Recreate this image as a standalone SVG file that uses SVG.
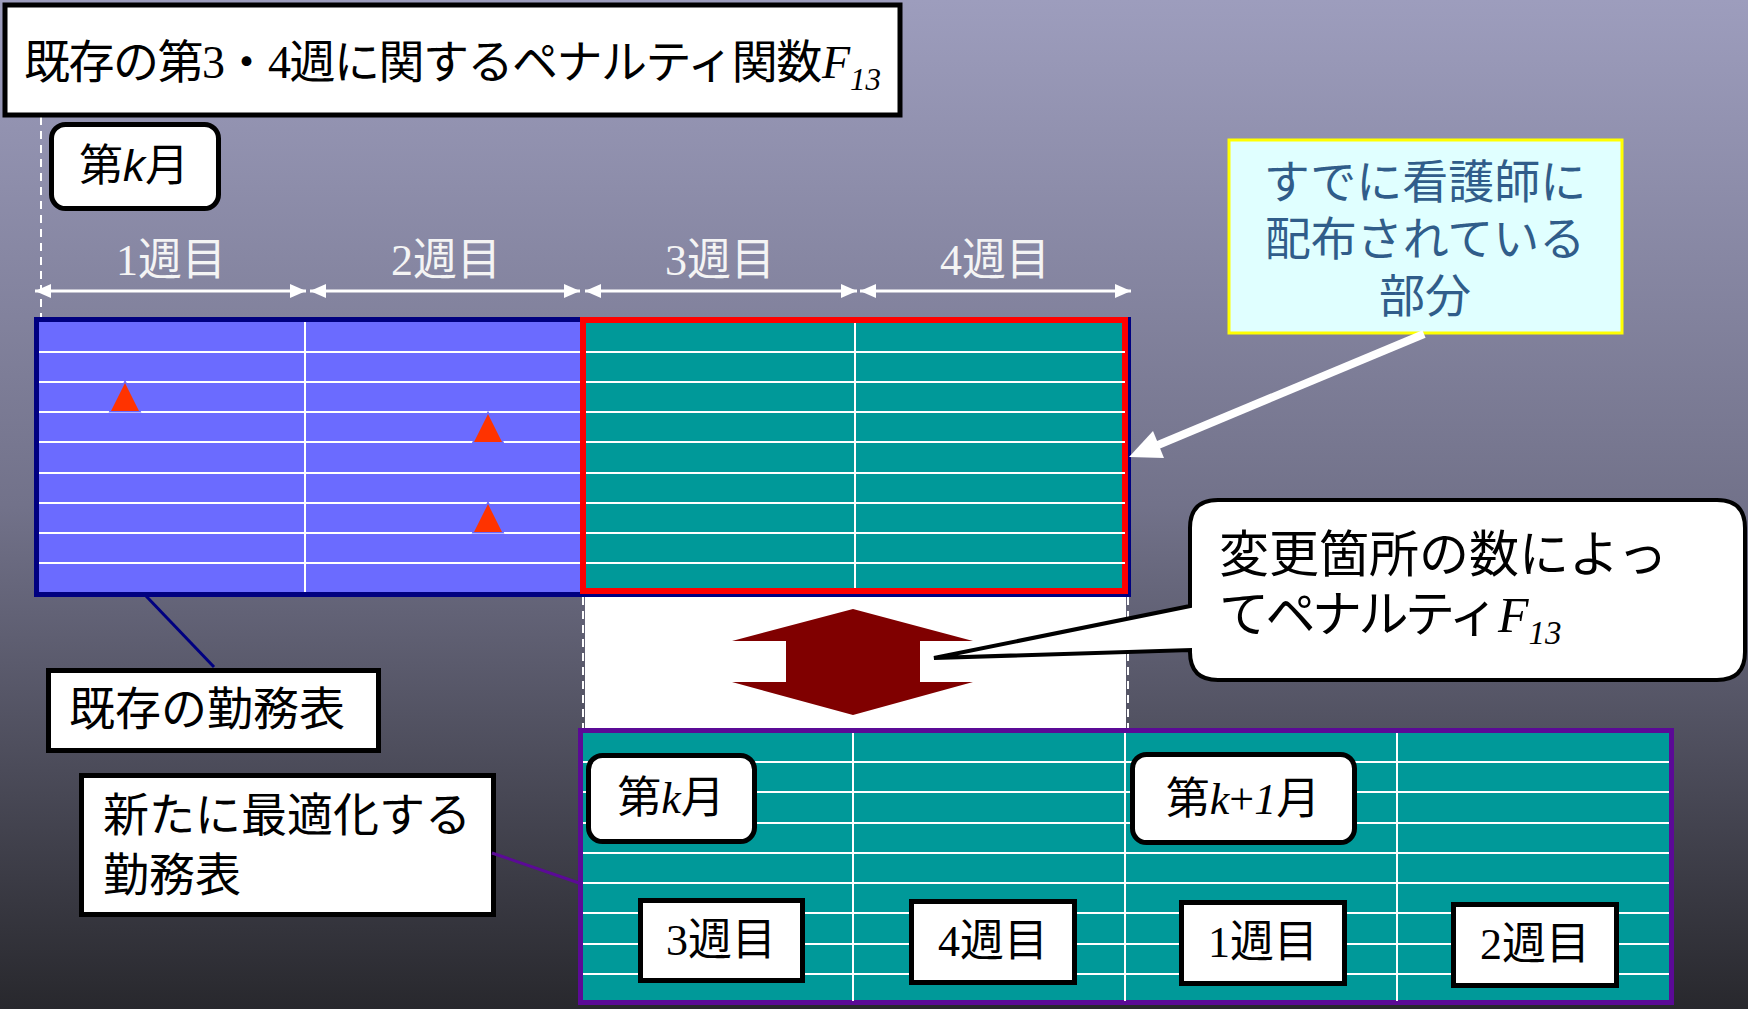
<svg xmlns="http://www.w3.org/2000/svg" width="1748" height="1009" viewBox="0 0 1748 1009">
<defs>
<linearGradient id="bg" x1="0" y1="0" x2="0" y2="1">
<stop offset="0" stop-color="#9d9dbd"/>
<stop offset="0.5" stop-color="#72728a"/>
<stop offset="1" stop-color="#28282d"/>
</linearGradient>
<marker id="ah" markerWidth="16" markerHeight="16" refX="16" refY="8" orient="auto-start-reverse" markerUnits="userSpaceOnUse">
<path d="M0,1 L16,8 L0,15 Z" fill="#ffffff"/>
</marker>
<style>
text { font-family: "Noto Sans CJK JP", "Noto Sans", sans-serif; }
.num { font-family: "Liberation Serif", "Times New Roman", serif; }
.it { font-style: italic; }
.box { fill: #ffffff; stroke: #000000; stroke-width: 5; }
.rbox { fill: #ffffff; stroke: #000000; stroke-width: 5; }
.grid { stroke: #ffffff; stroke-width: 2; fill: none; }
.dash { stroke: #ffffff; stroke-width: 2; stroke-dasharray: 8 6; fill: none; }
.wk { stroke: #ffffff; stroke-width: 3; fill: none; marker-start: url(#ah); marker-end: url(#ah); }
.wlab { fill: #f4f4f4; font-size: 44px; }
.blab { fill: #000000; font-size: 44px; }
.tri { fill: #ff3300; stroke: #6b6bff; stroke-width: 3; paint-order: stroke; }
</style>
</defs>

<rect x="0" y="0" width="1748" height="1009" fill="url(#bg)"/>

<g id="guides">
<line class="dash" x1="41" y1="117" x2="41" y2="317"/>
<line class="wk" x1="35" y1="291" x2="306" y2="291"/>
<line class="wk" x1="310" y1="291" x2="580" y2="291"/>
<line class="wk" x1="585" y1="291" x2="857" y2="291"/>
<line class="wk" x1="860" y1="291" x2="1131" y2="291"/>
<text class="wlab" x="171" y="275" text-anchor="middle"><tspan class="num">1</tspan>週目</text>
<text class="wlab" x="446" y="275" text-anchor="middle"><tspan class="num">2</tspan>週目</text>
<text class="wlab" x="720" y="275" text-anchor="middle"><tspan class="num">3</tspan>週目</text>
<text class="wlab" x="995" y="275" text-anchor="middle"><tspan class="num">4</tspan>週目</text>
</g>

<g id="title">
<rect x="5" y="5" width="895" height="110" fill="#ffffff" stroke="#000000" stroke-width="5"/>
<text x="24" y="78" font-size="46" letter-spacing="-1.5">既存の第<tspan class="num">3</tspan>・<tspan class="num">4</tspan>週に関するペナルティ関数</text>
<text x="822" y="78" font-size="46" class="num it">F<tspan font-size="31" dy="12">13</tspan></text>
</g>

<g id="month-k-top">
<rect class="rbox" x="51.5" y="124.5" width="167" height="84" rx="14"/>
<text x="134" y="181" font-size="44" text-anchor="middle">第<tspan font-family="Liberation Sans" font-style="italic">k</tspan>月</text>
</g>

<g id="existing-table">
<rect x="36.5" y="319.5" width="1092" height="275" fill="#6b6bff" stroke="#000080" stroke-width="5"/>
<rect x="583" y="320" width="542" height="271" fill="#009999" stroke="#ff0000" stroke-width="6"/>
<g class="grid">
<line x1="39" y1="352" x2="580" y2="352"/><line x1="586" y1="352" x2="1125" y2="352"/>
<line x1="39" y1="382" x2="580" y2="382"/><line x1="586" y1="382" x2="1125" y2="382"/>
<line x1="39" y1="412" x2="580" y2="412"/><line x1="586" y1="412" x2="1125" y2="412"/>
<line x1="39" y1="442" x2="580" y2="442"/><line x1="586" y1="442" x2="1125" y2="442"/>
<line x1="39" y1="473" x2="580" y2="473"/><line x1="586" y1="473" x2="1125" y2="473"/>
<line x1="39" y1="503" x2="580" y2="503"/><line x1="586" y1="503" x2="1125" y2="503"/>
<line x1="39" y1="533" x2="580" y2="533"/><line x1="586" y1="533" x2="1125" y2="533"/>
<line x1="39" y1="563" x2="580" y2="563"/><line x1="586" y1="563" x2="1125" y2="563"/>
<line x1="305" y1="322" x2="305" y2="592"/>
<line x1="855" y1="323" x2="855" y2="588"/>
</g>
<polygon class="tri" points="125,383 139,411 111,411"/>
<polygon class="tri" points="488,414 502,442 474,442"/>
<polygon class="tri" points="488,504 502,532 474,532"/>
</g>

<g id="compare-area">
<rect x="585" y="597" width="541" height="133" fill="#ffffff"/>
<line class="dash" x1="583" y1="597" x2="583" y2="730"/>
<line class="dash" x1="1128" y1="597" x2="1128" y2="730"/>
<polygon fill="#800000" points="853,609 973,641 920,641 920,682 973,682 853,715 732,682 786,682 786,641 732,641"/>
</g>

<g id="new-table">
<rect x="580.5" y="730.5" width="1091" height="272" fill="#009999" stroke="#5b0a96" stroke-width="5"/>
<g class="grid">
<line x1="583" y1="762" x2="1669" y2="762"/>
<line x1="583" y1="792" x2="1669" y2="792"/>
<line x1="583" y1="823" x2="1669" y2="823"/>
<line x1="583" y1="853" x2="1669" y2="853"/>
<line x1="583" y1="883" x2="1669" y2="883"/>
<line x1="583" y1="913" x2="1669" y2="913"/>
<line x1="583" y1="944" x2="1669" y2="944"/>
<line x1="583" y1="974" x2="1669" y2="974"/>
<line x1="853" y1="733" x2="853" y2="1001"/>
<line x1="1125" y1="733" x2="1125" y2="1001"/>
<line x1="1397" y1="733" x2="1397" y2="1001"/>
</g>
</g>

<g id="month-k-bottom">
<rect class="rbox" x="588.5" y="755.5" width="166" height="86" rx="14"/>
<text x="671" y="813" font-size="44" text-anchor="middle">第<tspan class="num it">k</tspan>月</text>
</g>

<g id="month-k1">
<rect class="rbox" x="1132.5" y="754.5" width="222" height="88" rx="14"/>
<text x="1243" y="814" font-size="44" text-anchor="middle">第<tspan class="num"><tspan class="it">k</tspan>+<tspan class="it">1</tspan></tspan>月</text>
</g>

<g id="week3-box">
<rect class="box" x="640.5" y="900.5" width="162" height="80"/>
<text class="blab" x="721" y="955" text-anchor="middle"><tspan class="num">3</tspan>週目</text>
</g>
<g id="week4-box">
<rect class="box" x="911.5" y="901.5" width="163" height="81"/>
<text class="blab" x="993" y="956" text-anchor="middle"><tspan class="num">4</tspan>週目</text>
</g>
<g id="week1-box">
<rect class="box" x="1181.5" y="902.5" width="163" height="81"/>
<text class="blab" x="1263" y="957" text-anchor="middle"><tspan class="num">1</tspan>週目</text>
</g>
<g id="week2-box">
<rect class="box" x="1453.5" y="904.5" width="163" height="81"/>
<text class="blab" x="1535" y="959" text-anchor="middle"><tspan class="num">2</tspan>週目</text>
</g>

<g id="existing-label">
<rect class="box" x="48.5" y="670.5" width="330" height="80"/>
<text x="69" y="725" font-size="46">既存の勤務表</text>
</g>

<g id="new-label">
<rect class="box" x="81.5" y="775.5" width="412" height="139"/>
<text x="103" y="831" font-size="46">新たに最適化する</text>
<text x="103" y="891" font-size="46">勤務表</text>
</g>

<g id="distributed-note">
<rect x="1229" y="140" width="393" height="193" fill="#e0ffff" stroke="#ffff00" stroke-width="3"/>
<text x="1425" y="198" font-size="46" fill="#305d8a" text-anchor="middle">すでに看護師に</text>
<text x="1425" y="255" font-size="46" fill="#305d8a" text-anchor="middle">配布されている</text>
<text x="1425" y="312" font-size="46" fill="#305d8a" text-anchor="middle">部分</text>
</g>

<g id="penalty-bubble">
<path d="M1218,500 H1717 Q1745,500 1745,528 V652 Q1745,680 1717,680 H1218 Q1190,680 1190,652 L1190,650 L934,658 L1190,606 L1190,528 Q1190,500 1218,500 Z" fill="#ffffff" stroke="#000000" stroke-width="4"/>
<text x="1219" y="572" font-size="50">変更箇所の数によっ</text>
<text x="1219" y="632" font-size="50" letter-spacing="-3.5">てペナルティ</text>
<text x="1498" y="632" font-size="50" class="num it">F<tspan font-size="33" dy="12">13</tspan></text>
</g>

<g id="connectors">
<line x1="146" y1="596" x2="214" y2="667" stroke="#000080" stroke-width="3"/>
<line x1="492" y1="853" x2="579" y2="883" stroke="#5b0a96" stroke-width="3"/>
<line x1="1424" y1="334" x2="1158" y2="445" stroke="#ffffff" stroke-width="8"/>
<polygon points="1129,457 1164,458 1153,431" fill="#ffffff"/>
</g>
</svg>
